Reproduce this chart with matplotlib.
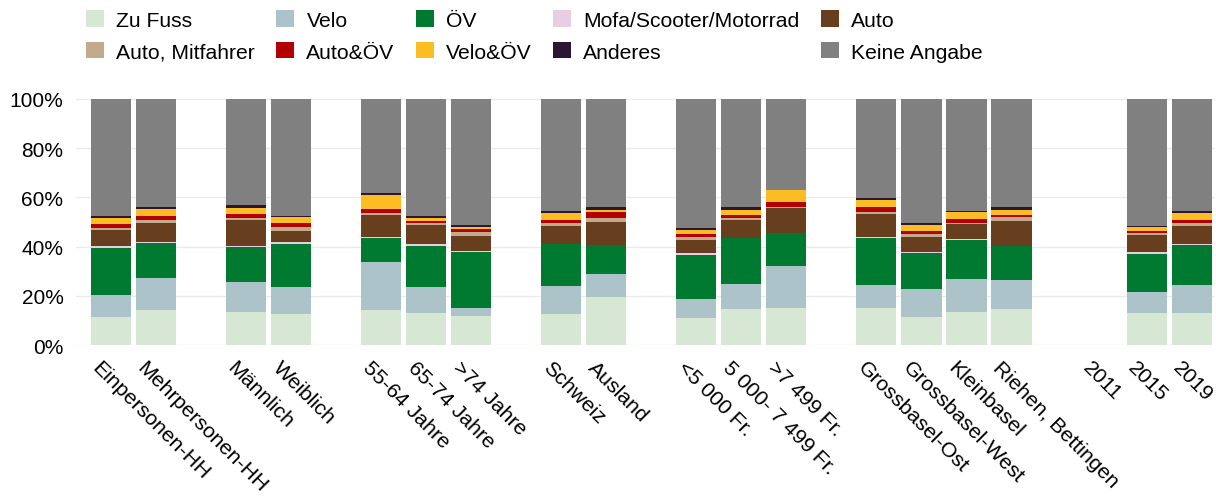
import numpy as np
import matplotlib
matplotlib.use("Agg")
import matplotlib.pyplot as plt
from matplotlib.ticker import FuncFormatter
from matplotlib.patches import Patch
import matplotlib.transforms as mtransforms

plt.rcParams['font.family'] = ['Liberation Sans', 'DejaVu Sans']

groups = [
    ["Einpersonen-HH", "Mehrpersonen-HH"],
    ["Männlich", "Weiblich"],
    ["55-64 Jahre", "65-74 Jahre", ">74 Jahre"],
    ["Schweiz", "Ausland"],
    ["<5 000 Fr.", "5 000- 7 499 Fr.", ">7 499 Fr."],
    ["Grossbasel-Ost", "Grossbasel-West", "Kleinbasel", "Riehen, Bettingen"],
    ["2011", "2015", "2019"],
]
nan = np.nan
zu_fuss   = [11.2, 14.2, 13.5, 12.8, 14.3, 13.2, 11.6, 12.6, 19.5, 11.1, 14.5, 15.0, 14.9, 11.2, 13.4, 14.7, nan, 13.1, 13.1]
velo      = [9.2, 13.1, 12.3, 10.8, 19.5, 10.4, 3.5, 11.5, 9.4, 7.8, 10.1, 17.2, 9.4, 11.4, 13.4, 11.7, nan, 8.3, 11.4]
oev       = [19.1, 14.2, 14.1, 17.6, 9.7, 16.8, 22.9, 16.8, 11.6, 17.6, 18.9, 13.2, 19.2, 14.8, 15.9, 13.7, nan, 15.5, 16.0]
mofa      = [0.7, 0.5, 0.3, 0.5, 0.6, 0.5, 0.1, 0.3, 0.1, 0.8, 0.1, 0.1, 0.6, 0.4, 0.5, 0.1, nan, 0.9, 0.6]
auto      = [6.5, 7.5, 10.5, 4.7, 8.7, 7.7, 6.2, 7.3, 9.2, 5.4, 7.2, 10.1, 9.0, 6.3, 6.1, 10.3, nan, 6.8, 7.3]
mitfahrer = [0.7, 1.3, 0.9, 1.6, 0.7, 0.9, 1.7, 1.0, 1.8, 1.4, 0.8, 0.7, 1.0, 0.9, 0.4, 1.4, nan, 0.8, 1.2]
auto_oev  = [1.6, 1.5, 1.5, 1.4, 1.9, 0.9, 1.0, 1.2, 2.4, 1.0, 1.2, 1.8, 2.0, 1.4, 1.4, 0.8, nan, 0.8, 1.3]
velo_oev  = [2.6, 2.8, 2.4, 2.8, 5.5, 1.1, 0.8, 2.9, 0.8, 1.8, 2.0, 4.8, 3.0, 2.4, 3.1, 2.0, nan, 1.6, 2.6]
anderes   = [0.7, 1.1, 1.5, 0.3, 0.7, 1.1, 0.8, 0.9, 1.1, 0.5, 1.1, 0.3, 0.8, 0.9, 0.4, 1.3, nan, 0.7, 1.1]
keine     = [47.8, 43.8, 43.0, 47.4, 38.4, 47.4, 51.5, 45.5, 44.2, 52.6, 44.2, 36.9, 40.1, 50.3, 45.4, 44.1, nan, 51.5, 45.4]

series_names = ["Zu Fuss", "Velo", "ÖV", "Mofa/Scooter/Motorrad", "Auto",
                "Auto, Mitfahrer", "Auto&ÖV", "Velo&ÖV", "Anderes", "Keine Angabe"]
series_vals = [zu_fuss, velo, oev, mofa, auto, mitfahrer, auto_oev, velo_oev, anderes, keine]
colors = ["#d6e7d3", "#abc3c9", "#007a31", "#e8cde3", "#673f1e",
          "#c4aa8c", "#b30000", "#fbbc24", "#2c1634", "#808080"]

# positions with a gap slot between groups
cats, pos = [], []
p = 0
for g in groups:
    for c in g:
        cats.append(c)
        pos.append(p)
        p += 1
    p += 1
pos = np.array(pos, dtype=float)

fig = plt.figure(figsize=(12.16, 5.02), dpi=100)
ax = fig.add_axes([76/1216, (502-346)/502, (1215-76)/1216, (346-100)/502])

bottom = np.zeros(len(cats))
handles = []
for name, vals, col in zip(series_names, series_vals, colors):
    v = np.array(vals, dtype=float)
    ax.bar(pos, v, bottom=bottom, width=0.89, color=col, linewidth=0, zorder=3)
    bottom = bottom + np.nan_to_num(v)
    handles.append(Patch(facecolor=col, edgecolor='none', label=name))

ax.set_ylim(0, 100)
ax.set_xlim(-0.78, pos[-1] + 0.52)
ax.set_yticks([0, 20, 40, 60, 80, 100])
ax.yaxis.set_major_formatter(FuncFormatter(lambda y, _: f"{int(y)}%"))
ax.grid(axis='y', color='#ebebeb', linewidth=1, zorder=0)
for s in ax.spines.values():
    s.set_visible(False)
ax.tick_params(axis='both', length=0, labelsize=15)
ax.tick_params(axis='y', pad=9)
ax.set_xticks(pos)
ax.set_xticklabels(cats, rotation=-45, ha='left', va='top', rotation_mode='anchor',
                   fontsize=15.3)
offset = mtransforms.ScaledTranslation(-9/100, -8/100, fig.dpi_scale_trans)
for lab in ax.get_xticklabels():
    lab.set_transform(lab.get_transform() + offset)

# legend ordered column-wise: 5 columns, 2 rows
order = [0, 5, 1, 6, 2, 7, 3, 8, 4, 9]
fig.legend([handles[i] for i in order], [series_names[i] for i in order],
           ncol=5, loc='upper left', bbox_to_anchor=(75/1216, 1.0),
           frameon=False, fontsize=15.2, handlelength=0.82, handleheight=0.82,
           handletextpad=0.6, columnspacing=1.02, labelspacing=0.58,
           borderaxespad=0.13)

fig.savefig("out.png", dpi=100)
